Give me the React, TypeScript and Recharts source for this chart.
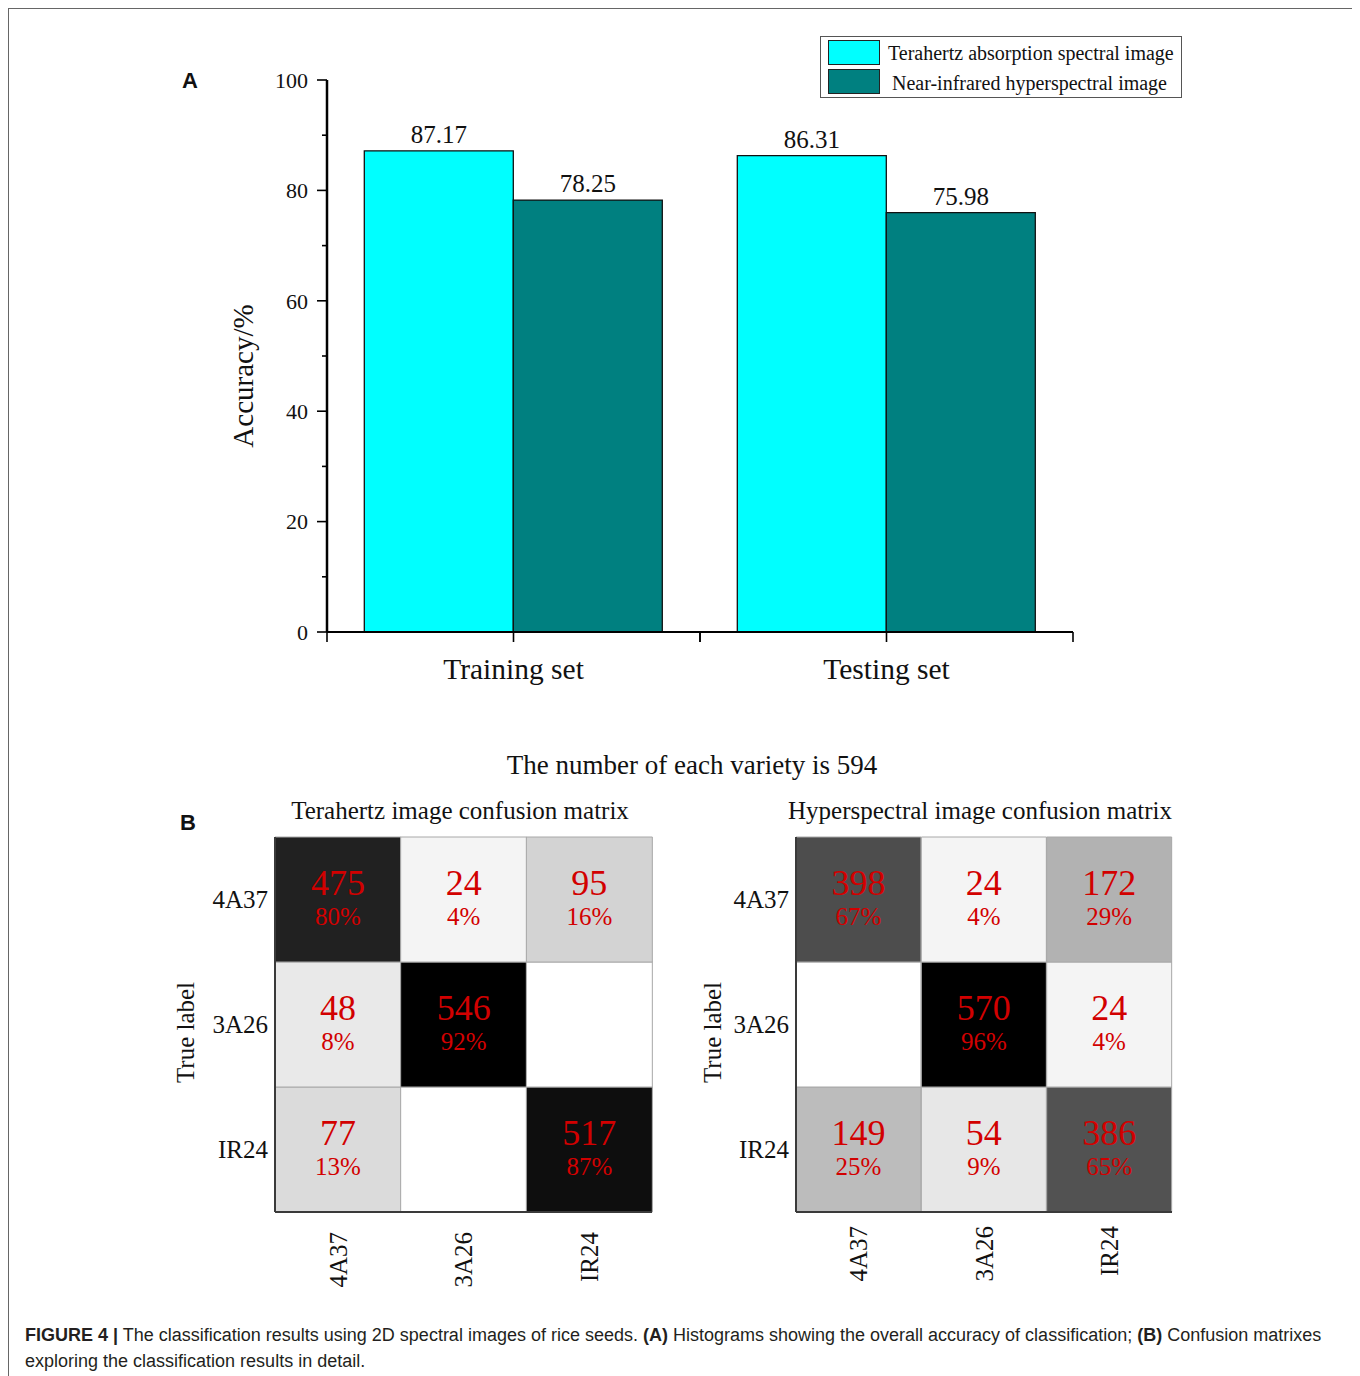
import React from "react";
import { Bar, BarChart, Cell, LabelList, XAxis, YAxis } from "recharts";

// panel A
const sets = ["Training set", "Testing set"];
const terahertzAcc = [87.17, 86.31];
const nirAcc = [78.25, 75.98];
const accTicks = [0, 10, 20, 30, 40, 50, 60, 70, 80, 90, 100];

// panel B (rows = true label, columns = predicted label)
const varieties = ["4A37", "3A26", "IR24"];
const perVariety = 594;
const terahertzCounts = [
  [475, 24, 95],
  [48, 546, 0],
  [77, 0, 517],
];
const hyperCounts = [
  [398, 24, 172],
  [0, 570, 24],
  [149, 54, 386],
];
const matrixTicks = [0.5, 1.5, 2.5];

const SERIF = '"Liberation Serif", "Times New Roman", serif';
const SANS = '"Liberation Sans", Arial, sans-serif';
const RED = "#d20000";
const FRAME = "#3a3a3a";

const accData = sets.map((name, i) => ({ name, thz: terahertzAcc[i], nir: nirAcc[i] }));

// chart A geometry
const A_W = 933;
const A_H = 670;
const A_MARGIN = { top: 50, right: 20, bottom: 8, left: 20 };
const A_YW = 147;
const A_BAND = (A_W - A_MARGIN.left - A_MARGIN.right - A_YW) / sets.length;

function AccTick(props: any) {
  const { x, y, payload } = props;
  const major = payload.value % 20 === 0;
  return (
    <g>
      <line x1={x - (major ? 10 : 5)} y1={y} x2={x} y2={y} stroke="#000" strokeWidth={1.6} />
      {major && (
        <text x={x - 19} y={y} dy="0.35em" textAnchor="end" fontSize={22} fontFamily={SERIF} fill="#111">
          {payload.value}
        </text>
      )}
    </g>
  );
}

function SetTick(props: any) {
  const { x, y, payload } = props;
  const h = A_BAND / 2;
  return (
    <g>
      <line x1={x} y1={y} x2={x} y2={y + 10} stroke="#000" strokeWidth={1.6} />
      <line x1={x - h} y1={y} x2={x - h} y2={y + 10} stroke="#000" strokeWidth={1.6} />
      <line x1={x + h} y1={y} x2={x + h} y2={y + 10} stroke="#000" strokeWidth={1.6} />
      <text x={x} y={y + 47} textAnchor="middle" fontSize={29.5} fontFamily={SERIF} fill="#111">
        {payload.value}
      </text>
    </g>
  );
}

function AccuracyChart() {
  return (
    <BarChart
      width={A_W}
      height={A_H}
      data={accData}
      margin={A_MARGIN}
      barCategoryGap="10%"
      barGap={0}
    >
      <XAxis
        dataKey="name"
        height={60}
        interval={0}
        axisLine={{ stroke: "#000", strokeWidth: 2 }}
        tickLine={false}
        tickSize={0}
        tickMargin={0}
        tick={<SetTick />}
      />
      <YAxis
        width={A_YW}
        domain={[0, 100]}
        ticks={accTicks}
        interval={0}
        axisLine={{ stroke: "#000", strokeWidth: 2.5 }}
        tickLine={false}
        tickSize={0}
        tickMargin={0}
        tick={<AccTick />}
        label={(p: any) => {
          const vb = p.viewBox;
          const cx = 83;
          const cy = vb.y + vb.height / 2 + 20;
          return (
            <text
              x={cx}
              y={cy}
              transform={`rotate(-90, ${cx}, ${cy})`}
              textAnchor="middle"
              dy="0.35em"
              fontSize={29}
              fontFamily={SERIF}
              fill="#111"
            >
              Accuracy/%
            </text>
          );
        }}
      />
      <Bar dataKey="thz" fill="#00ffff" stroke="#111" strokeWidth={1.3} isAnimationActive={false}>
        <LabelList dataKey="thz" position="top" offset={8} fontSize={25} fontFamily={SERIF} fill="#111" />
      </Bar>
      <Bar dataKey="nir" fill="#008080" stroke="#111" strokeWidth={1.3} isAnimationActive={false}>
        <LabelList dataKey="nir" position="top" offset={8} fontSize={25} fontFamily={SERIF} fill="#111" />
      </Bar>
    </BarChart>
  );
}

function shade(v: number, max: number) {
  const g = Math.round(255 * (1 - v / max));
  return `rgb(${g},${g},${g})`;
}

function ColTick(props: any) {
  const { x, y, payload } = props;
  return (
    <text
      x={x}
      y={y}
      transform={`rotate(-90, ${x}, ${y})`}
      textAnchor="end"
      dy="0.35em"
      fontSize={25}
      fontFamily={SERIF}
      fill="#111"
    >
      {payload.value}
    </text>
  );
}

function Matrix({
  counts,
  width,
  labelDx,
  colGap,
}: {
  counts: number[][];
  width: number;
  labelDx: number;
  colGap: number;
}) {
  const max = Math.max(...counts.flat());
  const data = varieties.map((pred, j) => {
    const row: any = { pred };
    varieties.forEach((t, i) => {
      row[t] = counts[i][j];
    });
    return row;
  });
  const axisLine = { stroke: FRAME, strokeWidth: 2 };
  // stack from bottom row (IR24) to top row (4A37)
  const order = [2, 1, 0];
  return (
    <BarChart
      width={width}
      height={470}
      data={data}
      margin={{ top: 10, right: 28, bottom: 5, left: 15 }}
      barCategoryGap={0}
      barGap={0}
    >
      <XAxis
        dataKey="pred"
        height={80}
        interval={0}
        axisLine={axisLine}
        tickLine={false}
        tickSize={0}
        tickMargin={colGap}
        tick={<ColTick />}
      />
      <XAxis xAxisId="top" orientation="top" dataKey="pred" height={0} axisLine={axisLine} tick={false} tickLine={false} />
      <YAxis
        type="number"
        width={100}
        domain={[0, 3]}
        ticks={matrixTicks}
        interval={0}
        axisLine={axisLine}
        tickLine={false}
        tickSize={0}
        tickMargin={7}
        tickFormatter={(v: number) => varieties[2 - Math.floor(v)]}
        tick={{ fontSize: 25, fill: "#111", fontFamily: SERIF }}
        label={(p: any) => {
          const vb = p.viewBox;
          const cx = vb.x + labelDx;
          const cy = vb.y + vb.height / 2 + 8;
          return (
            <text
              x={cx}
              y={cy}
              transform={`rotate(-90, ${cx}, ${cy})`}
              textAnchor="middle"
              dy="0.35em"
              fontSize={25}
              fontFamily={SERIF}
              fill="#111"
            >
              True label
            </text>
          );
        }}
      />
      <YAxis yAxisId="right" orientation="right" width={0} domain={[0, 3]} axisLine={axisLine} tick={false} tickLine={false} />
      {order.map((i) => (
        <Bar
          key={varieties[i]}
          dataKey={() => 1}
          stackId="m"
          isAnimationActive={false}
        >
          {data.map((d, j) => (
            <Cell key={j} fill={shade(d[varieties[i]], max)} stroke="#a8a8a8" strokeWidth={1} />
          ))}
          <LabelList
            dataKey={varieties[i]}
            content={(p: any) => {
              const v = Number(p.value);
              if (!v) return null;
              const vb = p.viewBox || p;
              const cx = vb.x + vb.width / 2;
              const cy = vb.y + vb.height / 2;
              const pct = Math.round((v / perVariety) * 100);
              return (
                <g fontFamily={SERIF}>
                  <text x={cx} y={cy - 17} dy="0.35em" textAnchor="middle" fontSize={36} fill={RED}>
                    {v}
                  </text>
                  <text x={cx} y={cy + 17} dy="0.35em" textAnchor="middle" fontSize={25} fill={RED}>
                    {pct}%
                  </text>
                </g>
              );
            }}
          />
        </Bar>
      ))}
    </BarChart>
  );
}

function Txt({ x, y, size, children, font = SERIF, bold = false }: any) {
  return (
    <div
      style={{
        position: "absolute",
        left: x - 8,
        top: y - 8,
        transform: "translate(-50%, -50%)",
        fontFamily: font,
        fontSize: size,
        fontWeight: bold ? "bold" : "normal",
        lineHeight: 1,
        whiteSpace: "nowrap",
        color: "#111",
      }}
    >
      {children}
    </div>
  );
}

export default function App() {
  return (
    <div
      style={{
        position: "relative",
        width: 1348,
        height: 1368,
        fontFamily: SERIF,
        background: "#fff",
        overflow: "hidden",
      }}
    >
      <div
        style={{
          position: "absolute",
          left: 0,
          top: 0,
          width: 1348,
          height: 1400,
          boxSizing: "border-box",
          border: "1px solid #666",
        }}
      />
      <Txt x={190} y={81} size={22} font={SANS} bold>
        A
      </Txt>
      <div style={{ position: "absolute", left: 152, top: 22 }}>
        <AccuracyChart />
      </div>
      <div
        style={{
          position: "absolute",
          left: 812,
          top: 28,
          width: 362,
          height: 62,
          boxSizing: "border-box",
          border: "1px solid #555",
          background: "#fff",
        }}
      >
        <div style={{ position: "absolute", left: 7, top: 3, width: 52, height: 25, boxSizing: "border-box", background: "#00ffff", border: "1.5px solid #222" }} />
        <div style={{ position: "absolute", left: 7, top: 32, width: 52, height: 25, boxSizing: "border-box", background: "#008080", border: "1.5px solid #222" }} />
        <div style={{ position: "absolute", left: 67, top: 6, fontSize: 20, lineHeight: "20px", whiteSpace: "nowrap", color: "#111" }}>
          Terahertz absorption spectral image
        </div>
        <div style={{ position: "absolute", left: 71, top: 36, fontSize: 20, lineHeight: "20px", whiteSpace: "nowrap", color: "#111" }}>
          Near-infrared hyperspectral image
        </div>
      </div>

      <Txt x={692} y={765} size={27}>
        The number of each variety is 594
      </Txt>
      <Txt x={188} y={823} size={22} font={SANS} bold>
        B
      </Txt>
      <Txt x={460} y={810} size={25}>
        Terahertz image confusion matrix
      </Txt>
      <Txt x={980} y={810} size={25}>
        Hyperspectral image confusion matrix
      </Txt>
      <div style={{ position: "absolute", left: 152, top: 819 }}>
        <Matrix counts={terahertzCounts} width={520} labelDx={10} colGap={20} />
      </div>
      <div style={{ position: "absolute", left: 673, top: 819 }}>
        <Matrix counts={hyperCounts} width={519} labelDx={16} colGap={14} />
      </div>

      <div
        style={{
          position: "absolute",
          left: 17,
          top: 1314,
          fontFamily: SANS,
          fontSize: 18,
          lineHeight: "26px",
          color: "#231f20",
          whiteSpace: "nowrap",
        }}
      >
        <b>FIGURE 4 |</b> The classification results using 2D spectral images of rice seeds. <b>(A)</b> Histograms showing the
        overall accuracy of classification; <b>(B)</b> Confusion matrixes
        <br />
        exploring the classification results in detail.
      </div>
    </div>
  );
}
